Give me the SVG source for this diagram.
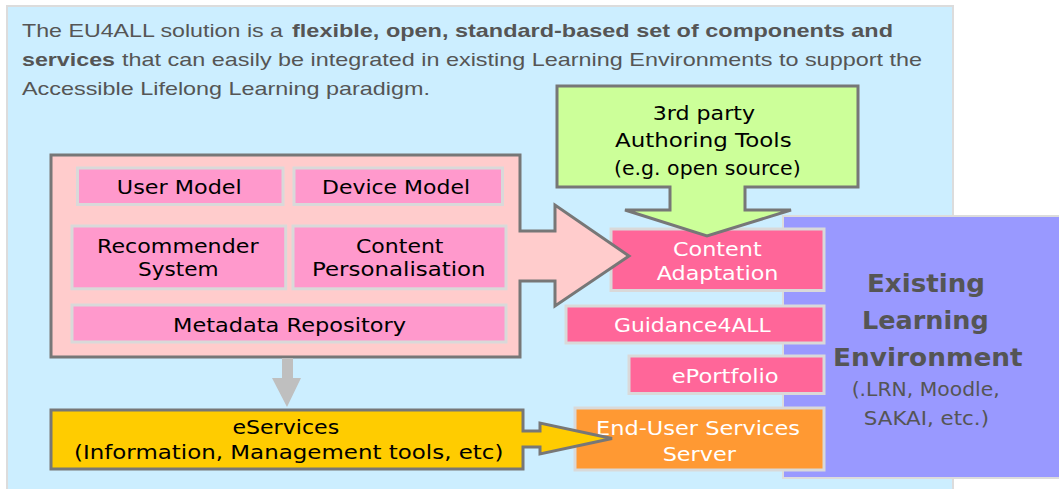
<svg xmlns="http://www.w3.org/2000/svg" width="1059" height="489" viewBox="0 0 1059 489">
<style>
.para{font-family:"Liberation Sans",Arial,sans-serif;font-size:19px;fill:#555}
.b{font-weight:bold}
.lbl{font-family:"DejaVu Sans",Verdana,sans-serif;font-size:19px;fill:#000}
.w{fill:#fff}
.g{fill:#555}
.box{stroke:#d9d9d9;stroke-width:3}
.sub{fill:#ff99cc}
.hot{fill:#ff6699}
.arr{stroke:#777;stroke-width:3;stroke-linejoin:miter}
.big{font-family:"DejaVu Sans",Verdana,sans-serif;font-size:25px;font-weight:bold;fill:#555}
</style>
<rect id="background" x="7" y="6" width="946" height="490" fill="#cceeff" stroke="#dcdcdc" stroke-width="2"/>
<g id="intro">
<text class="para" x="22" y="37" textLength="261" lengthAdjust="spacingAndGlyphs">The EU4ALL solution is a</text>
<text class="para b" x="292" y="37" textLength="601" lengthAdjust="spacingAndGlyphs">flexible, open, standard-based set of components and</text>
<text class="para b" x="22" y="66" textLength="93" lengthAdjust="spacingAndGlyphs">services</text>
<text class="para" x="122" y="66" textLength="800" lengthAdjust="spacingAndGlyphs">that can easily be integrated in existing Learning Environments to support the</text>
<text class="para" x="22" y="95" textLength="408" lengthAdjust="spacingAndGlyphs">Accessible Lifelong Learning paradigm.</text>
</g>
<g id="existing-le">
<rect x="783" y="216" width="280" height="262" fill="#9999ff" stroke="#dcdcdc" stroke-width="2"/>
<text class="big" x="867" y="292" textLength="118" lengthAdjust="spacingAndGlyphs">Existing</text>
<text class="big" x="862" y="328.5" textLength="126.7" lengthAdjust="spacingAndGlyphs">Learning</text>
<text class="big" x="833" y="365.5" textLength="189.7" lengthAdjust="spacingAndGlyphs">Environment</text>
<text class="lbl g" x="851.7" y="396" textLength="148" lengthAdjust="spacingAndGlyphs">(.LRN, Moodle,</text>
<text class="lbl g" x="863.8" y="425" textLength="125.2" lengthAdjust="spacingAndGlyphs">SAKAI, etc.)</text>
</g>
<g id="content-adaptation">
<rect class="box hot" x="611" y="229" width="213" height="61.5"/>
<text class="lbl w" x="673" y="255.5" textLength="88.7" lengthAdjust="spacingAndGlyphs">Content</text>
<text class="lbl w" x="656.7" y="280" textLength="121.7" lengthAdjust="spacingAndGlyphs">Adaptation</text>
</g>
<g id="guidance4all">
<rect class="box hot" x="566" y="306" width="258" height="37"/>
<text class="lbl w" x="614" y="332" textLength="156.7" lengthAdjust="spacingAndGlyphs">Guidance4ALL</text>
</g>
<g id="eportfolio">
<rect class="box hot" x="629" y="356" width="195" height="37.5"/>
<text class="lbl w" x="671.7" y="383" textLength="107" lengthAdjust="spacingAndGlyphs">ePortfolio</text>
</g>
<g id="end-user-server">
<rect class="box" fill="#ff9933" x="575" y="408" width="249" height="62"/>
<text class="lbl w" x="596" y="435" textLength="204" lengthAdjust="spacingAndGlyphs">End-User Services</text>
<text class="lbl w" x="662.7" y="461" textLength="73.3" lengthAdjust="spacingAndGlyphs">Server</text>
</g>
<g id="authoring-tools">
<polygon class="arr" fill="#ccff99" points="557,86 858,86 858,187 745,187 745,210 791,210 707,236 625,210 670,210 670,187 557,187"/>
<text class="lbl" x="652.7" y="120" textLength="102.3" lengthAdjust="spacingAndGlyphs">3rd party</text>
<text class="lbl" x="615" y="147" textLength="176.7" lengthAdjust="spacingAndGlyphs">Authoring Tools</text>
<text class="lbl" fill="#333" x="614" y="175" textLength="186.7" lengthAdjust="spacingAndGlyphs">(e.g. open source)</text>
</g>
<g id="eu4all-core">
<polygon class="arr" fill="#ffcccc" points="51,155 520,155 520,231 555,231 555,205 629,256 555,306 555,281 520,281 520,357 51,357"/>
<g id="user-model">
<rect class="box sub" x="77.5" y="168" width="205.5" height="36.5"/>
<text class="lbl" x="116.8" y="194" textLength="125" lengthAdjust="spacingAndGlyphs">User Model</text>
</g>
<g id="device-model">
<rect class="box sub" x="294" y="168" width="208.5" height="36.5"/>
<text class="lbl" x="322" y="194" textLength="148" lengthAdjust="spacingAndGlyphs">Device Model</text>
</g>
<g id="recommender">
<rect class="box sub" x="72" y="226" width="213.7" height="62.8"/>
<text class="lbl" x="97" y="253" textLength="161.5" lengthAdjust="spacingAndGlyphs">Recommender</text>
<text class="lbl" x="138" y="276" textLength="80.6" lengthAdjust="spacingAndGlyphs">System</text>
</g>
<g id="content-personalisation">
<rect class="box sub" x="293" y="226" width="213" height="62.8"/>
<text class="lbl" x="356" y="253" textLength="87.5" lengthAdjust="spacingAndGlyphs">Content</text>
<text class="lbl" x="312" y="276" textLength="173.6" lengthAdjust="spacingAndGlyphs">Personalisation</text>
</g>
<g id="metadata-repository">
<rect class="box sub" x="72" y="305" width="434" height="37"/>
<text class="lbl" x="173" y="332" textLength="233" lengthAdjust="spacingAndGlyphs">Metadata Repository</text>
</g>
</g>
<g id="eservices">
<polygon class="arr" fill="#ffcc00" points="51,410 523,410 523,431 540,431 540,423 612,438.5 540,454 540,447 523,447 523,469 51,469"/>
<text class="lbl" x="232.4" y="434" textLength="106.8" lengthAdjust="spacingAndGlyphs">eServices</text>
<text class="lbl" x="74" y="459" textLength="429.4" lengthAdjust="spacingAndGlyphs">(Information, Management tools, etc)</text>
</g>
<g id="connectors">
<polygon fill="#bfbfbf" points="282,358 293,358 293,378 301,378 287,407 272,378 282,378"/>
</g>
</svg>
